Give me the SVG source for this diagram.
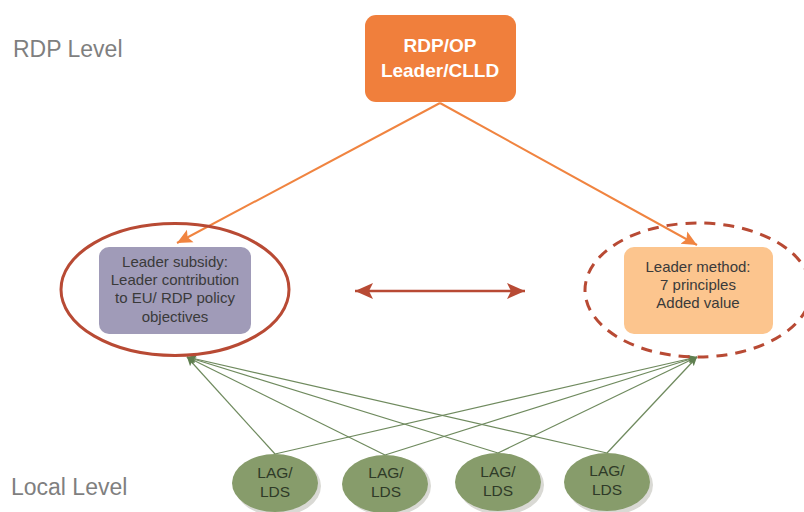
<svg xmlns="http://www.w3.org/2000/svg" width="804" height="512" viewBox="0 0 804 512">
<defs>
<style>
.lvl{font-family:"Liberation Sans",Arial,sans-serif;font-size:23px;fill:#7f7f7f}
.t{font-family:"Liberation Sans",Arial,sans-serif;font-size:15px;fill:#3a3a3a;text-anchor:middle}
.top{font-family:"Liberation Sans",Arial,sans-serif;font-size:19px;font-weight:bold;fill:#ffffff;text-anchor:middle}
.lag{font-family:"Liberation Sans",Arial,sans-serif;font-size:15.5px;fill:#2f3a28;text-anchor:middle}
.or{stroke:#f08440;stroke-width:2;fill:none}
.gr{stroke:#6f8a5e;stroke-width:1.2;fill:none}
.rd{stroke:#b84a34;stroke-width:2.5;fill:none}
</style>
<marker id="ao" markerUnits="userSpaceOnUse" markerWidth="16" markerHeight="16" viewBox="0 0 16 16" refX="15" refY="8" orient="auto">
<path d="M0,1 L15,8 L0,15 L3,8 Z" fill="#f08440"/>
</marker>
<marker id="ag" markerUnits="userSpaceOnUse" markerWidth="10" markerHeight="10" viewBox="0 0 10 10" refX="9" refY="5" orient="auto">
<path d="M0,1 L9,5 L0,9 L2,5 Z" fill="#5f7f50"/>
</marker>
<marker id="ar" markerUnits="userSpaceOnUse" markerWidth="20" markerHeight="20" viewBox="0 0 20 20" refX="18" refY="10" orient="auto-start-reverse">
<path d="M0,2 L18,10 L0,18 L4,10 Z" fill="#b84a34"/>
</marker>
</defs>
<rect width="804" height="512" fill="#ffffff"/>
<text class="lvl" x="13" y="57">RDP Level</text>
<text class="lvl" x="11" y="495">Local Level</text>

<g id="connectors">
<line class="or" x1="440" y1="103" x2="177" y2="243" marker-end="url(#ao)"/>
<line class="or" x1="440" y1="103" x2="697" y2="245" marker-end="url(#ao)"/>
<line class="rd" x1="355" y1="291" x2="525" y2="291" marker-start="url(#ar)" marker-end="url(#ar)"/>
<line class="gr" x1="275" y1="454" x2="187" y2="357" marker-end="url(#ag)"/>
<line class="gr" x1="385" y1="455" x2="187" y2="357" marker-end="url(#ag)"/>
<line class="gr" x1="498" y1="453" x2="187" y2="357" marker-end="url(#ag)"/>
<line class="gr" x1="607" y1="453" x2="187" y2="357" marker-end="url(#ag)"/>
<line class="gr" x1="275" y1="454" x2="697" y2="357" marker-end="url(#ag)"/>
<line class="gr" x1="385" y1="455" x2="697" y2="357" marker-end="url(#ag)"/>
<line class="gr" x1="498" y1="453" x2="697" y2="357" marker-end="url(#ag)"/>
<line class="gr" x1="607" y1="453" x2="697" y2="357" marker-end="url(#ag)"/>
</g>

<g id="rdp-op">
<rect x="365" y="15" width="151" height="87" rx="11" fill="#f07f3c"/>
<text class="top" x="440" y="52">RDP/OP</text>
<text class="top" x="440" y="77">Leader/CLLD</text>
</g>

<g id="leader-subsidy">
<ellipse cx="175" cy="289.5" rx="114" ry="66" fill="none" stroke="#b84a34" stroke-width="3"/>
<rect x="99" y="247" width="152" height="87" rx="10" fill="#a09bb8"/>
<text class="t" x="175" y="267">Leader subsidy:</text>
<text class="t" x="175" y="285">Leader contribution</text>
<text class="t" x="175" y="303">to EU/ RDP policy</text>
<text class="t" x="175" y="322">objectives</text>
</g>

<g id="leader-method">
<ellipse cx="698" cy="290" rx="113" ry="67" fill="none" stroke="#b84a34" stroke-width="3" stroke-dasharray="11 8"/>
<rect x="624" y="247" width="149" height="87" rx="10" fill="#fcc58e"/>
<text class="t" x="698" y="272">Leader method:</text>
<text class="t" x="698" y="290">7 principles</text>
<text class="t" x="698" y="308">Added value</text>
</g>

<g id="lag1">
<ellipse cx="278" cy="486" rx="43" ry="30" fill="#d9d9d4"/>
<ellipse cx="275" cy="483" rx="43" ry="29" fill="#879c6b"/>
<text class="lag" x="275" y="478">LAG/</text>
<text class="lag" x="275" y="497">LDS</text>
</g>
<g id="lag2">
<ellipse cx="388" cy="486" rx="43" ry="30" fill="#d9d9d4"/>
<ellipse cx="385" cy="484" rx="43" ry="29" fill="#879c6b"/>
<text class="lag" x="386" y="478">LAG/</text>
<text class="lag" x="386" y="497">LDS</text>
</g>
<g id="lag3">
<ellipse cx="501" cy="485" rx="43" ry="30" fill="#d9d9d4"/>
<ellipse cx="498" cy="482" rx="43" ry="29" fill="#879c6b"/>
<text class="lag" x="498" y="477">LAG/</text>
<text class="lag" x="498" y="496">LDS</text>
</g>
<g id="lag4">
<ellipse cx="610" cy="485" rx="43" ry="30" fill="#d9d9d4"/>
<ellipse cx="607" cy="482" rx="43" ry="29" fill="#879c6b"/>
<text class="lag" x="607" y="476">LAG/</text>
<text class="lag" x="607" y="495">LDS</text>
</g>
</svg>
